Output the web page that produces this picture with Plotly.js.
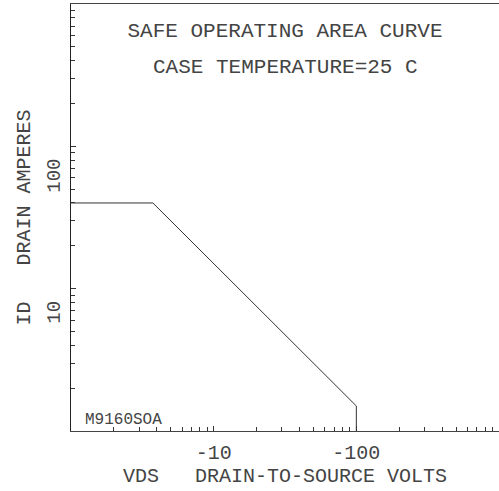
<!DOCTYPE html>
<html>
<head>
<meta charset="utf-8">
<script src="https://cdn.plot.ly/plotly-3.0.1.min.js"></script>
<style>html,body{margin:0;padding:0;background:#fff;}#chart{width:499px;height:491px;}</style>
</head>
<body>
<div id="chart"></div>
<script>
// Drain-to-source voltage magnitude (V, plotted as negative labels) and drain current (A)
const vdsMagnitude = [1, 3.75, 100, 100];
const drainAmps = [40, 40, 1.5, 1];
const xTickVals = [10, 100];
const xTickText = ['-10', '-100'];
const yTickVals = [10, 100];
const yTickText = ['10', '100'];
const minorVals = [2,3,4,5,6,7,8,9,20,30,40,50,60,70,80,90,200,300,400,500,600,700,800,900];
const titleLine1 = 'SAFE OPERATING AREA CURVE';
const titleLine2 = 'CASE TEMPERATURE=25 C';
const xTitle = 'VDS\u00a0\u00a0\u00a0DRAIN-TO-SOURCE VOLTS';
const yTitle = 'ID\u00a0\u00a0\u00a0DRAIN AMPERES';
const partLabel = 'M9160SOA';

const FONT = 'Liberation Mono';
const TXT = '#444';
const trace = {
  x: vdsMagnitude, y: drainAmps, type: 'scatter', mode: 'lines',
  line: {color: '#333', width: 1}, hoverinfo: 'skip', showlegend: false
};
const layout = {
  width: 499, height: 491,
  margin: {l: 71, r: 0, t: 4, b: 60},
  paper_bgcolor: '#fff', plot_bgcolor: '#fff',
  font: {family: FONT, color: TXT, size: 20},
  title: {text: titleLine1, font: {family: FONT, size: 21, color: TXT},
          xref: 'paper', x: 0.5, xanchor: 'center', yref: 'container', y: 1 - 30/491, yanchor: 'middle'},
  xaxis: {
    type: 'log', range: [0, 3], showgrid: false, zeroline: false,
    showline: true, linecolor: '#444', linewidth: 1, mirror: true,
    tickmode: 'array', tickvals: xTickVals, ticktext: xTickText,
    ticks: 'inside', ticklen: 5, tickcolor: '#333',
    ticklabelstandoff: 3,
    tickfont: {family: FONT, size: 20, color: TXT},
    minor: {tickmode: 'array', tickvals: minorVals, ticks: 'inside', ticklen: 4, tickcolor: '#333', showgrid: false},
    title: {text: xTitle, font: {family: FONT, size: 20, color: TXT}, standoff: 2}
  },
  yaxis: {
    type: 'log', range: [0, 3], showgrid: false, zeroline: false,
    showline: true, linecolor: '#222', linewidth: 1, mirror: false,
    tickmode: 'array', tickvals: yTickVals, ticktext: yTickText, tickangle: -89.9,
    ticklabelstandoff: 16, ticklabelshift: 15,
    ticks: 'inside', ticklen: 5, tickcolor: '#333',
    tickfont: {family: FONT, size: 19, color: TXT},
    minor: {tickmode: 'array', tickvals: minorVals, ticks: 'inside', ticklen: 4, tickcolor: '#333', showgrid: false},
    title: {text: yTitle, font: {family: FONT, size: 20, color: TXT}, standoff: 7}
  },
  annotations: [
    {text: titleLine2, xref: 'paper', x: 0.5, xanchor: 'center', yref: 'paper', y: (431-67)/427, yanchor: 'middle',
     showarrow: false, font: {family: FONT, size: 21, color: TXT}},
    {text: partLabel, xref: 'paper', x: 12/428, xanchor: 'left', yref: 'paper', y: (431-420)/427, yanchor: 'middle',
     showarrow: false, font: {family: FONT, size: 16, color: TXT}}
  ]
};
Plotly.newPlot('chart', [trace], layout, {displayModeBar: false, staticPlot: true});
</script>
</body>
</html>
